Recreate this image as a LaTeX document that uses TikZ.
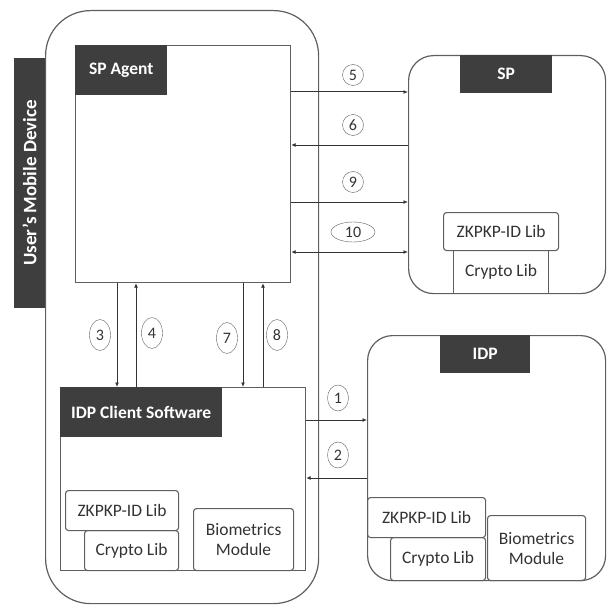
\documentclass[tikz,border=0pt]{standalone}
\usepackage{fontspec}
\setmainfont{Carlito}
\usetikzlibrary{positioning,arrows.meta,shapes.geometric}
\definecolor{charcoal}{RGB}{62,62,62}
\definecolor{edge}{RGB}{95,95,95}

\begin{document}
\begin{tikzpicture}[x=1pt, y=-1pt, >={Latex[length=4.5pt,width=4pt]},
    box/.style={draw=edge,line width=1.2pt,anchor=north west,inner sep=0pt},
    hdr/.style={fill=charcoal,text=white,font=\fontsize{17.5}{19}\selectfont\bfseries,
                anchor=north west,inner sep=0pt},
    lib/.style={draw=edge,line width=1.1pt,rounded corners=3pt,anchor=north west,
                inner sep=0pt,align=center,text=black!80,font=\fontsize{17.5}{20}\selectfont},
    num/.style={draw=edge,ellipse,inner sep=0pt,minimum width=21pt,minimum height=21pt,
                text=black!80,font=\fontsize{16}{16}\selectfont},
    msg/.style={draw=black!80,line width=1pt}]
    \useasboundingbox (0,0) rectangle (606,607);
    % user's device
    \node[box,rounded corners=45pt,minimum width=273pt,minimum height=593pt] (dev) at (45,10) {};
    \node[hdr,anchor=center,rotate=90,minimum width=250pt,minimum height=31pt,
          font=\fontsize{19}{20}\selectfont\bfseries] (devlbl) at (29.5,183) {User's Mobile Device};
    % SP agent
    \node[box,minimum width=215pt,minimum height=237pt] (agent) at (75,45) {};
    \node[hdr,minimum width=92pt,minimum height=50pt] (agenthdr) at (agent.north west) {SP Agent};
    % SP
    \node[box,rounded corners=25pt,minimum width=197pt,minimum height=238pt] (sp) at (408,55) {};
    \node[hdr,minimum width=92pt,minimum height=38pt] (sphdr) at (460,55) {SP};
    \node[lib,minimum width=115pt,minimum height=38pt] (spzk) at (443,212) {ZKPKP-ID Lib};
    \node[lib,minimum width=95pt,minimum height=43pt,rounded corners=0pt] (spcry) at (453,250) {Crypto Lib};
    % IDP client software
    \node[box,minimum width=245pt,minimum height=183pt] (client) at (60,387) {};
    \node[hdr,minimum width=162pt,minimum height=50pt] (clienthdr) at (client.north west) {IDP Client Software};
    \node[lib,minimum width=113pt,minimum height=40pt] (clzk) at (65,490) {ZKPKP-ID Lib};
    \node[lib,minimum width=94pt,minimum height=40pt] (clcry) at (84,530) {Crypto Lib};
    \node[lib,minimum width=100pt,minimum height=62pt] (clbio) at (193,508) {Biometrics\\Module};
    % IDP
    \node[box,rounded corners=25pt,minimum width=238pt,minimum height=245pt] (idp) at (367,335) {};
    \node[hdr,minimum width=90pt,minimum height=38pt] (idphdr) at (440,335) {IDP};
    \node[lib,minimum width=118pt,minimum height=40pt] (idpzk) at (367,497) {ZKPKP-ID Lib};
    \node[lib,minimum width=95pt,minimum height=43pt] (idpcry) at (390,537) {Crypto Lib};
    \node[lib,minimum width=98pt,minimum height=65pt] (idpbio) at (487,515) {Biometrics\\Module};
    % messages
    \foreach \y/\t in {92/->,145/<-,202/->,252/<->}
        \draw[msg,\t] (agent.east |- 0,\y) -- (sp.west |- 0,\y);
    \foreach \x/\t in {117/->,136/<-,243/->,263/<-}
        \draw[msg,\t] (agent.south -| \x,0) -- (client.north -| \x,0);
    \foreach \y/\t in {420/->,478/<-}
        \draw[msg,\t] (client.east |- 0,\y) -- (idp.west |- 0,\y);
    % step numbers
    \node[num] (n5) at (353,75) {5};
    \node[num] (n6) at (353,125) {6};
    \node[num] (n9) at (353,182) {9};
    \node[num,minimum width=44pt,minimum height=20pt] (n10) at (353,232) {10};
    \node[num,minimum height=31pt] (n3) at (100,335) {3};
    \node[num,minimum height=31pt] (n4) at (152,333) {4};
    \node[num,minimum height=31pt] (n7) at (227,338) {7};
    \node[num,minimum height=31pt] (n8) at (277,335) {8};
    \node[num,minimum height=26pt] (n1) at (338,398) {1};
    \node[num,minimum height=26pt] (n2) at (338,455) {2};
\end{tikzpicture}
\end{document}
